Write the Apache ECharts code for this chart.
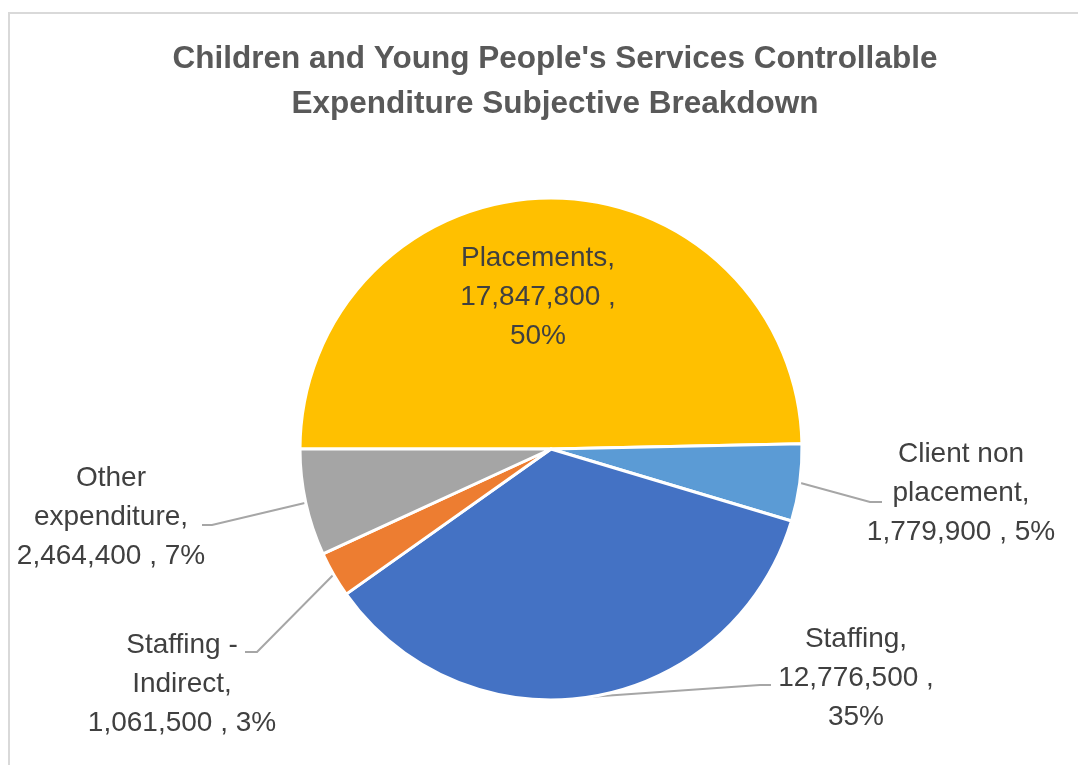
<!DOCTYPE html>
<html>
<head>
<meta charset="utf-8">
<script src="https://cdn.jsdelivr.net/npm/echarts@6/dist/echarts.min.js"></script>
<style>
    html, body { margin: 0; padding: 0; background: #ffffff; }
    #breakdown { width: 1078px; height: 765px; }
</style>
</head>
<body>
<div id="breakdown"></div>
<script>
// data
var categories = ['Placements', 'Client non placement', 'Staffing', 'Staffing - Indirect', 'Other expenditure'];
var values = [17847800, 1779900, 12776500, 1061500, 2464400];
var colors = ['#FFC000', '#5B9BD5', '#4472C4', '#ED7D31', '#A5A5A5'];

// where each label sits and how it wraps (layout only)
var labelLayouts = [
    { name: 'Placements', split: true, x: 538, y: 297 },
    { name: 'Client non\nplacement', split: false, x: 961, y: 493, line: [[870, 502], [882, 502]] },
    { name: 'Staffing', split: true, x: 856, y: 678, line: [[760, 685], [771, 685]] },
    { name: 'Staffing -\nIndirect', split: false, x: 182, y: 684, line: [[257, 652], [245, 652]] },
    { name: 'Other\nexpenditure', split: false, x: 111, y: 517, line: [[212, 525], [202, 525]] }
];

var pieData = categories.map(function (c, i) {
    return {
        name: c,
        value: values[i],
        itemStyle: { color: colors[i] },
        label: { position: i === 0 ? 'inside' : 'outside' },
        labelLine: { show: i !== 0 }
    };
});

var chart = echarts.init(document.getElementById('breakdown'));
var option = {
    backgroundColor: '#ffffff',
    graphic: [{
        type: 'rect',
        shape: { x: 9, y: 13, width: 1200, height: 900 },
        style: { fill: 'none', stroke: '#d9d9d9', lineWidth: 2 },
        silent: true
    }],
    title: {
        text: "Children and Young People's Services Controllable\nExpenditure Subjective Breakdown",
        left: 550,
        top: 32,
        textAlign: 'center',
        textStyle: {
            color: '#595959',
            fontFamily: 'Liberation Sans',
            fontWeight: 'bold',
            fontSize: 31.5,
            lineHeight: 45
        }
    },
    series: [
        {
            name: 'Controllable Expenditure',
            type: 'pie',
            center: [551, 449],
            radius: 251,
            startAngle: 180,
            clockwise: true,
            percentPrecision: 0,
            avoidLabelOverlap: false,
            animation: false,
            itemStyle: {
                borderColor: '#ffffff',
                borderWidth: 3
            },
            label: {
                color: '#404040',
                fontFamily: 'Liberation Sans',
                fontSize: 28,
                lineHeight: 39,
                align: 'center',
                formatter: function (p) {
                    var l = labelLayouts[p.dataIndex];
                    return l.name + ',\n' + p.value.toLocaleString('en-US') + ' ,' + (l.split ? '\n' : ' ') + p.percent + '%';
                }
            },
            labelLine: {
                lineStyle: { color: '#a6a6a6', width: 2 }
            },
            labelLayout: function (params) {
                var l = labelLayouts[params.dataIndex];
                var res = { x: l.x, y: l.y, align: 'center', verticalAlign: 'middle' };
                if (l.line && params.labelLinePoints) {
                    res.labelLinePoints = [params.labelLinePoints[0], l.line[0], l.line[1]];
                }
                return res;
            },
            data: pieData
        }
    ]
};
chart.setOption(option);
</script>
</body>
</html>
